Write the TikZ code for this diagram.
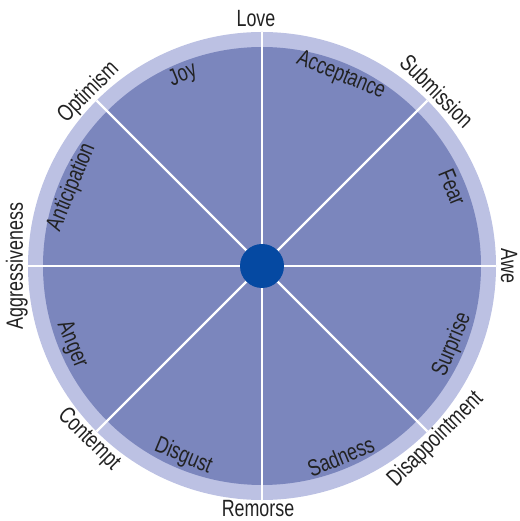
\documentclass[tikz,border=0pt]{standalone}
\usepackage{fontspec}
\setmainfont{Liberation Sans}[FakeStretch=0.76]
\begin{document}
\definecolor{ringc}{HTML}{BCC1E3}
\definecolor{fillc}{HTML}{7B86BD}
\definecolor{dotc}{HTML}{0549A2}
\definecolor{txtc}{HTML}{222222}
\begin{tikzpicture}[x=1pt,y=1pt,
  lbl/.style={font=\fontsize{23.5}{24}\selectfont, text=txtc, inner sep=0.5pt},
  toplbl/.style={lbl, anchor=base},
  botlbl/.style={lbl, anchor=north},
  inlbl/.style={lbl, anchor=center},
  spoke/.style={draw=white, line width=2.4pt}]
\useasboundingbox (-262,-255) rectangle (257,266);
\fill[ringc] (0,0) circle (234);
\fill[fillc] (0,0) circle (219);
\coordinate (c) at (0,0);
\foreach \a in {0,45,...,315} {
  \coordinate (e\a) at (\a:234);
  \draw[spoke] (c) -- (e\a);
}
\node[circle, fill=dotc, minimum size=44pt, inner sep=0pt] (dot) at (c) {};
% outer labels
\node[toplbl, rotate=0]   (love) at (-6,239) {Love};
\node[toplbl, rotate=-45] (subm) at (45:239) {Submission};
\node[toplbl, rotate=-90] (awe)  at (0:239) {Awe};
\node[toplbl, rotate=45]  (opt)  at (135:239) {Optimism};
\node[toplbl, rotate=90]  (aggr) at (180:239) {Aggressiveness};
\node[botlbl, rotate=45]  (disa) at (-45:234) {Disappointment};
\node[botlbl, rotate=0]   (remo) at (-4,-234) {Remorse};
\node[botlbl, rotate=-45] (cont) at (-135:234) {Contempt};
% inner labels
\node[inlbl, rotate=22.5]  (joy)  at (112.5:206) {Joy};
\node[inlbl, rotate=-22.5] (acc)  at (67.5:206) {Acceptance};
\node[inlbl, rotate=-67.5] (fear) at (22.5:206) {Fear};
\node[inlbl, rotate=67.5]  (ant)  at (157.5:206) {Anticipation};
\node[inlbl, rotate=67.5]  (surp) at (-22.5:206) {Surprise};
\node[inlbl, rotate=22.5]  (sad)  at (-67.5:206) {Sadness};
\node[inlbl, rotate=-22.5] (disg) at (-112.5:206) {Disgust};
\node[inlbl, rotate=-67.5] (ang)  at (-157.5:206) {Anger};
\end{tikzpicture}
\end{document}
